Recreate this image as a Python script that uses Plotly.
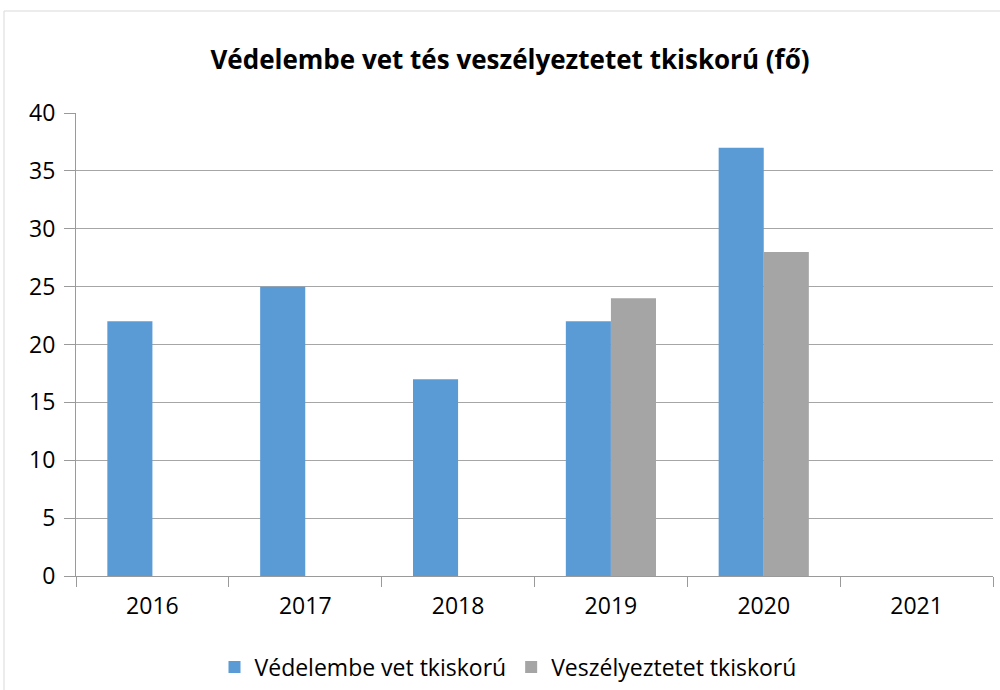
import plotly.graph_objects as go

categories = ["2016", "2017", "2018", "2019", "2020", "2021"]
vedelembe = [22, 25, 17, 22, 37, None]
veszelyeztetett = [None, None, None, 24, 28, None]
series_names = ["Védelembe vet tkiskorú", "Veszélyeztetet tkiskorú"]
title_text = "Védelembe vet tés veszélyeztetet tkiskorú (fő)"

W, H = 1000, 690
L, R, T, B = 76, 7, 113, 114
pw, ph = W - L - R, H - T - B

def px_x(x):
    return (x - L) / pw

def px_y(y):
    return (H - B - y) / ph

font = "Open Sans, Liberation Sans, sans-serif"
axis_col = "#9a9a9a"

fig = go.Figure()
fig.add_trace(go.Bar(x=categories, y=vedelembe, name=series_names[0],
                     marker=dict(color="#5B9BD5", line=dict(width=0))))
fig.add_trace(go.Bar(x=categories, y=veszelyeztetett, name=series_names[1],
                     marker=dict(color="#A5A5A5", line=dict(width=0))))

fig.update_layout(
    width=W, height=H,
    margin=dict(l=L, r=R, t=T, b=B, autoexpand=False),
    paper_bgcolor="white", plot_bgcolor="white",
    barmode="group", bargap=0.41, bargroupgap=0,
    title=dict(text="<b>" + title_text + "</b>", x=510 / W, xanchor="center",
               y=1 - 60 / H, yanchor="middle",
               font=dict(family=font, size=26, color="black")),
    font=dict(family=font, color="black"),
    showlegend=True,
    legend=dict(orientation="h", x=px_x(508), xanchor="center", y=px_y(667), yanchor="middle",
                font=dict(size=23, color="black"), traceorder="normal",
                itemwidth=30, bgcolor="rgba(0,0,0,0)"),
    xaxis=dict(type="category", tickson="boundaries", ticks="outside", ticklen=10,
               tickcolor=axis_col, showline=True, linecolor=axis_col, linewidth=1,
               showgrid=False, tickfont=dict(size=23, color="black"), fixedrange=True,
               ticklabelstandoff=9),
    yaxis=dict(range=[0, 40], dtick=5, ticks="outside", ticklen=11, tickcolor=axis_col,
               showline=True, linecolor=axis_col, linewidth=1,
               showgrid=True, gridcolor="#a6a6a6", gridwidth=1, zeroline=False,
               tickfont=dict(size=23, color="black"), fixedrange=True,
               ticklabelstandoff=4),
    shapes=[dict(type="rect", xref="paper", yref="paper",
                 x0=px_x(4), x1=px_x(1010), y0=px_y(700), y1=px_y(11),
                 line=dict(color="#d9d9d9", width=1), fillcolor="rgba(0,0,0,0)", layer="below")],
)

fig.write_html("out.html", config={"displayModeBar": False},
               post_script="document.body.style.margin='0px';")
